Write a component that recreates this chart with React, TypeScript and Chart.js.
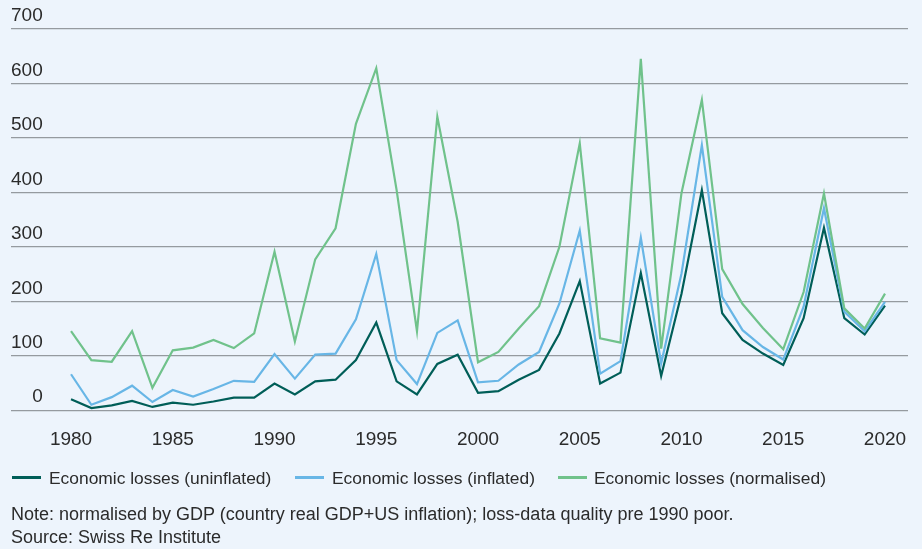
import React, { useEffect, useRef } from "react";
import { Chart, registerables } from "chart.js";

Chart.register(...registerables);

const years = [
  1980, 1981, 1982, 1983, 1984, 1985, 1986, 1987, 1988, 1989,
  1990, 1991, 1992, 1993, 1994, 1995, 1996, 1997, 1998, 1999,
  2000, 2001, 2002, 2003, 2004, 2005, 2006, 2007, 2008, 2009,
  2010, 2011, 2012, 2013, 2014, 2015, 2016, 2017, 2018, 2019, 2020,
];

const uninflated = [
  20, 4, 9, 17, 6, 14, 10, 16, 23, 23,
  49, 29, 53, 56, 92, 161, 53, 29, 85, 102,
  32, 35, 56, 74, 141, 237, 49, 69, 252, 63,
  214, 404, 178, 129, 104, 83, 169, 335, 169, 139, 192,
];

const inflated = [
  66, 10, 24, 45, 15, 37, 25, 39, 54, 52,
  103, 58, 102, 104, 167, 287, 92, 48, 142, 165,
  51, 54, 84, 107, 196, 330, 67, 90, 317, 86,
  251, 487, 208, 147, 116, 93, 190, 371, 181, 145, 199,
];

const normalised = [
  145, 92, 89, 145, 41, 110, 115, 129, 114, 141,
  291, 126, 277, 334, 526, 628, 404, 145, 539, 346,
  88, 107, 150, 191, 300, 490, 132, 124, 645, 113,
  399, 570, 259, 195, 151, 112, 217, 398, 187, 150, 214,
];

const xTickYears = [1980, 1985, 1990, 1995, 2000, 2005, 2010, 2015, 2020];

const seriesLabels = [
  "Economic losses (uninflated)",
  "Economic losses (inflated)",
  "Economic losses (normalised)",
];
const seriesColors = ["#005E58", "#68B6E6", "#70C28B"];

const noteText =
  "Note: normalised by GDP (country real GDP+US inflation); loss-data quality pre 1990 poor.";
const sourceText = "Source: Swiss Re Institute";

const FONT = "'Liberation Sans', Arial, sans-serif";
const TEXT = "#2b2b2b";

export default function App() {
  const canvasRef = useRef<HTMLCanvasElement | null>(null);

  useEffect(() => {
    const ctx = canvasRef.current;
    if (!ctx) return;
    const toPts = (vals: number[]) => years.map((y, i) => ({ x: y, y: vals[i] }));
    const series = [uninflated, inflated, normalised];
    const chart = new Chart(ctx, {
      type: "line",
      data: {
        datasets: series.map((vals, i) => ({
          label: seriesLabels[i],
          data: toPts(vals),
          borderColor: seriesColors[i],
          backgroundColor: seriesColors[i],
          borderWidth: 2.2,
          pointRadius: 0,
          tension: 0,
          fill: false,
          order: 3 - i,
        })),
      },
      options: {
        animation: false,
        responsive: false,
        maintainAspectRatio: false,
        layout: { padding: { left: 11, right: 14, top: 29, bottom: 88 } },
        plugins: { legend: { display: false }, tooltip: { enabled: false } },
        scales: {
          x: {
            type: "linear",
            min: 1977.05,
            max: 2021.13,
            grid: { display: false },
            border: { display: false },
            afterBuildTicks: (axis: any) => {
              axis.ticks = xTickYears.map((v) => ({ value: v }));
            },
            ticks: {
              autoSkip: false,
              maxRotation: 0,
              padding: 10,
              color: TEXT,
              font: { family: FONT, size: 19 },
              callback: (v: any) => String(v),
            },
          },
          y: {
            min: 0,
            max: 700,
            grid: { color: "#959a9f", lineWidth: 1.3, drawTicks: false },
            border: { display: false },
            ticks: {
              stepSize: 100,
              mirror: true,
              crossAlign: "far",
              padding: 0,
              labelOffset: -13,
              color: TEXT,
              font: { family: FONT, size: 19 },
              callback: (v: any) => String(v),
            },
          },
        },
      },
    });
    return () => chart.destroy();
  }, []);

  const legendPos = [
    { sx: 12, tx: 49 },
    { sx: 295, tx: 332 },
    { sx: 558, tx: 594 },
  ];

  return (
    <div
      style={{
        position: "fixed",
        left: 0,
        top: 0,
        width: 922,
        height: 549,
        background: "#EDF4FC",
        fontFamily: FONT,
        color: TEXT,
        overflow: "hidden",
      }}
    >
      <canvas
        ref={canvasRef}
        width={922}
        height={549}
        style={{ position: "absolute", left: 0, top: 0, width: 922, height: 549 }}
      />
      {legendPos.map((p, i) => (
        <React.Fragment key={i}>
          <div
            style={{
              position: "absolute",
              left: p.sx,
              top: 476,
              width: 29,
              height: 3,
              background: seriesColors[i],
            }}
          />
          <div
            style={{
              position: "absolute",
              left: p.tx,
              top: 467,
              fontSize: 17.4,
              lineHeight: "22px",
              whiteSpace: "nowrap",
            }}
          >
            {seriesLabels[i]}
          </div>
        </React.Fragment>
      ))}
      <div
        style={{
          position: "absolute",
          left: 11,
          top: 503,
          fontSize: 18,
          lineHeight: "22.5px",
          whiteSpace: "nowrap",
        }}
      >
        <div>{noteText}</div>
        <div>{sourceText}</div>
      </div>
    </div>
  );
}
